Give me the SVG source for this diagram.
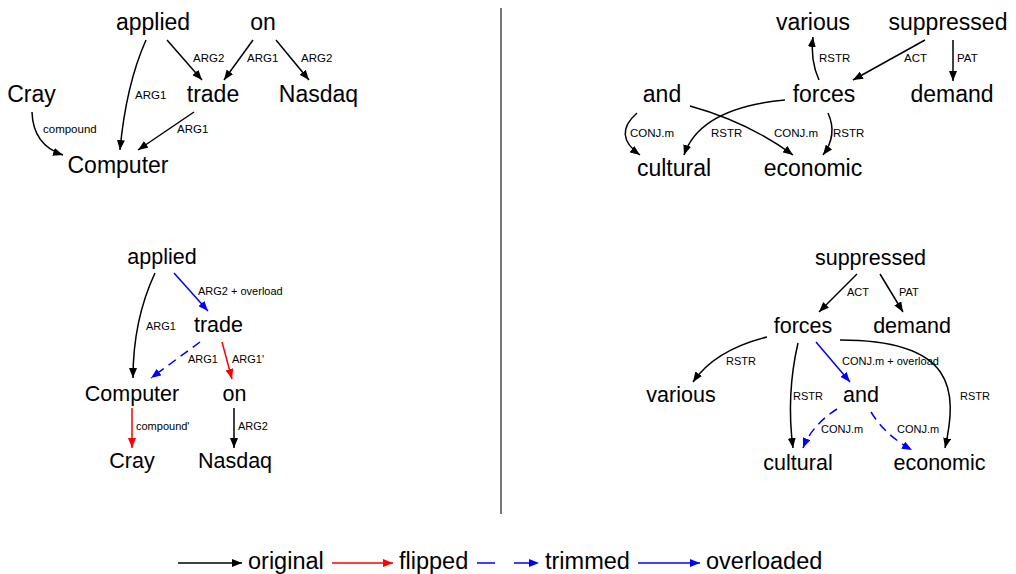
<svg xmlns="http://www.w3.org/2000/svg" width="1016" height="574" viewBox="0 0 1016 574">
<style>
text{font-family:"Liberation Sans",Arial,sans-serif;fill:#000}
.n1{font-size:23px;text-anchor:middle}
.n2{font-size:21.5px;text-anchor:middle}
.l1{font-size:11.5px}
.l2{font-size:11px}
.lg{font-size:23.5px}
.e{fill:none;stroke-width:1.5}
.k{stroke:#000;marker-end:url(#ak)}
.r{stroke:#f00;marker-end:url(#ar)}
.b{stroke:#00f;marker-end:url(#ab)}
.d{stroke:#00f;stroke-dasharray:9,6;marker-end:url(#ab)}
</style>
<defs>
<marker id="ak" markerUnits="userSpaceOnUse" markerWidth="10" markerHeight="8" refX="10" refY="4" orient="auto"><path d="M0,0L10,4L0,8z" fill="#000"/></marker>
<marker id="ar" markerUnits="userSpaceOnUse" markerWidth="10" markerHeight="8" refX="10" refY="4" orient="auto"><path d="M0,0L10,4L0,8z" fill="#f00"/></marker>
<marker id="ab" markerUnits="userSpaceOnUse" markerWidth="10" markerHeight="8" refX="10" refY="4" orient="auto"><path d="M0,0L10,4L0,8z" fill="#00f"/></marker>
</defs>
<rect width="1016" height="574" fill="#fff"/>
<line x1="501" y1="8" x2="501" y2="514" stroke="#777" stroke-width="2"/>

<g id="tl-applied"><text class="n1" x="153" y="30">applied</text></g>
<g id="tl-on"><text class="n1" x="263" y="30">on</text></g>
<g id="tl-cray"><text class="n1" x="31.5" y="102">Cray</text></g>
<g id="tl-trade"><text class="n1" x="213" y="102">trade</text></g>
<g id="tl-nasdaq"><text class="n1" x="318.5" y="102">Nasdaq</text></g>
<g id="tl-computer"><text class="n1" x="118" y="173">Computer</text></g>

<g id="tr-various"><text class="n1" x="813" y="30">various</text></g>
<g id="tr-suppressed"><text class="n1" x="948" y="30">suppressed</text></g>
<g id="tr-and"><text class="n1" x="662" y="102">and</text></g>
<g id="tr-forces"><text class="n1" x="824" y="102">forces</text></g>
<g id="tr-demand"><text class="n1" x="952" y="102">demand</text></g>
<g id="tr-cultural"><text class="n1" x="674" y="176">cultural</text></g>
<g id="tr-economic"><text class="n1" x="813" y="176">economic</text></g>

<g id="bl-applied"><text class="n2" x="162" y="264">applied</text></g>
<g id="bl-trade"><text class="n2" x="218.5" y="332">trade</text></g>
<g id="bl-computer"><text class="n2" x="132" y="401">Computer</text></g>
<g id="bl-on"><text class="n2" x="234.5" y="401">on</text></g>
<g id="bl-cray"><text class="n2" x="132" y="468">Cray</text></g>
<g id="bl-nasdaq"><text class="n2" x="235" y="468">Nasdaq</text></g>

<g id="br-suppressed"><text class="n2" x="870.5" y="265">suppressed</text></g>
<g id="br-forces"><text class="n2" x="803" y="333">forces</text></g>
<g id="br-demand"><text class="n2" x="912" y="333">demand</text></g>
<g id="br-various"><text class="n2" x="681" y="402">various</text></g>
<g id="br-and"><text class="n2" x="861" y="402">and</text></g>
<g id="br-cultural"><text class="n2" x="798" y="470">cultural</text></g>
<g id="br-economic"><text class="n2" x="939.5" y="470">economic</text></g>

<g id="connectors">
<path class="e k" d="M146,40Q126,85 120,150"/>
<text class="l1" x="135" y="99">ARG1</text>
<path class="e k" d="M167,40L202,80"/>
<text class="l1" x="193" y="62">ARG2</text>
<path class="e k" d="M253,40L224,80"/>
<text class="l1" x="247" y="62">ARG1</text>
<path class="e k" d="M276,40L309,80"/>
<text class="l1" x="301" y="62">ARG2</text>
<path class="e k" d="M32,112Q33,145 63,155"/>
<text class="l1" x="43" y="133">compound</text>
<path class="e k" d="M194,112L138,150"/>
<text class="l1" x="177" y="133">ARG1</text>

<path class="e k" d="M819,80Q810,60 813,37"/>
<text class="l1" x="819" y="62">RSTR</text>
<path class="e k" d="M925,40L853,80"/>
<text class="l1" x="904" y="62">ACT</text>
<path class="e k" d="M953,40L953,81"/>
<text class="l1" x="957" y="62">PAT</text>
<path class="e k" d="M637,113Q612,135 640,155"/>
<text class="l1" x="630" y="137">CONJ.m</text>
<path class="e k" d="M690,106Q748,122 793,155"/>
<text class="l1" x="774" y="137">CONJ.m</text>
<path class="e k" d="M785,100Q700,108 684,155"/>
<text class="l1" x="711" y="137">RSTR</text>
<path class="e k" d="M828,113Q838,135 823,155"/>
<text class="l1" x="833" y="137">RSTR</text>

<path class="e k" d="M155,273Q133,320 133,378"/>
<text class="l2" x="146" y="330">ARG1</text>
<path class="e b" d="M174,273L208,311"/>
<text class="l2" x="198" y="295">ARG2 + overload</text>
<path class="e d" d="M200,342L151,378"/>
<text class="l2" x="188" y="363">ARG1</text>
<path class="e r" d="M222,342L232,379"/>
<text class="l2" x="232" y="363">ARG1'</text>
<path class="e r" d="M132,408L132,448"/>
<text class="l2" x="136" y="430">compound'</text>
<path class="e k" d="M234,408L234,448"/>
<text class="l2" x="238" y="430">ARG2</text>

<path class="e k" d="M857,274L819,312"/>
<text class="l2" x="847" y="296">ACT</text>
<path class="e k" d="M880,274L903,312"/>
<text class="l2" x="899" y="296">PAT</text>
<path class="e k" d="M767,337Q715,350 693,382"/>
<text class="l2" x="726" y="365">RSTR</text>
<path class="e k" d="M798,343Q786,395 793,448"/>
<text class="l2" x="793" y="400">RSTR</text>
<path class="e b" d="M816,342L850,382"/>
<text class="l2" x="842" y="365">CONJ.m + overload</text>
<path class="e k" d="M840,340C955,340 958,390 945,448"/>
<text class="l2" x="960" y="400">RSTR</text>
<path class="e d" d="M837,409Q812,425 803,448"/>
<text class="l2" x="821" y="433">CONJ.m</text>
<path class="e d" d="M871,412Q885,435 912,450"/>
<text class="l2" x="897" y="433">CONJ.m</text>
</g>

<g id="legend">
<path class="e k" d="M178,563L242,563"/>
<text class="lg" x="248" y="568.5">original</text>
<path class="e r" d="M332,563L393,563"/>
<text class="lg" x="399" y="568.5">flipped</text>
<path class="e b" style="stroke-dasharray:18,19" d="M477,563L539,563"/>
<text class="lg" x="545" y="568.5">trimmed</text>
<path class="e b" d="M638,563L700,563"/>
<text class="lg" x="706" y="568.5">overloaded</text>
</g>
</svg>
